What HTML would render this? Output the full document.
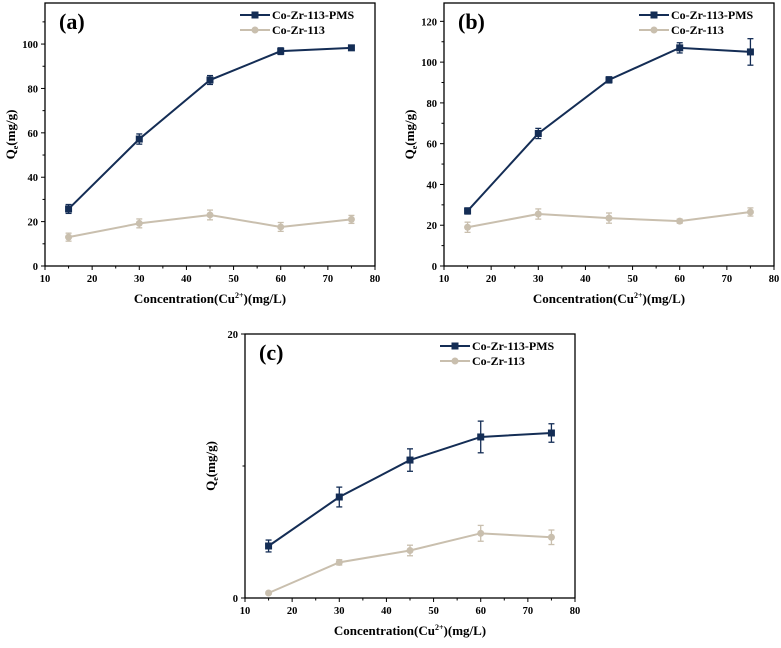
<!DOCTYPE html>
<html><head><meta charset="utf-8"><style>
body{margin:0;background:#fff;width:781px;height:643px;overflow:hidden}
svg{font-family:"Liberation Serif",serif;font-weight:bold}
</style></head><body>
<svg id="c" width="781" height="643" viewBox="0 0 781 643"></svg>
<script>
const categories=[15,30,45,60,75];
const aPms=[25.7,57.2,83.8,96.8,98.3];
const aPmsErr=[2,2.3,2,1.5,0.8];
const aCo=[13,19.2,23,17.6,21];
const aCoErr=[1.8,2,2.2,2,1.8];
const bPms=[27,65,91.3,107,105];
const bPmsErr=[1.5,2.5,1.5,2.5,6.5];
const bCo=[19,25.5,23.5,22,26.5];
const bCoErr=[2.5,2.5,2.5,1,2];
const cPms=[3.94,7.65,10.45,12.2,12.5];
const cPmsErr=[0.45,0.75,0.85,1.2,0.7];
const cCo=[0.38,2.7,3.6,4.9,4.6];
const cCoErr=[0.1,0.2,0.4,0.6,0.55];
const xTicks=[10,20,30,40,50,60,70,80];
const aYTicks=[0,20,40,60,80,100];
const bYTicks=[0,20,40,60,80,100,120];
const cYTicks=[0,20];
const legendLabels=["Co-Zr-113-PMS","Co-Zr-113"];
const NS="http://www.w3.org/2000/svg";
const svg=document.getElementById('c');
function mk(t,a,p){const e=document.createElementNS(NS,t);for(const k in a)e.setAttribute(k,a[k]);(p||svg).appendChild(e);return e;}
function panel(id,L,R,T,B,ymax,yTicks,yMinor,pms,pmsE,co,coE){
  const g=mk('g',{});
  
  
  const xs=v=>L+(v-10)/70*(R-L), ys=v=>B-v/ymax*(B-T);
  const box=mk('rect',{x:L,y:T,width:R-L,height:B-T,fill:'none',stroke:'#000','stroke-width':1.3},g);
  
  
  xTicks.forEach((v,i)=>{const x=xs(v);mk('line',{x1:x,x2:x,y1:B,y2:B+4,stroke:'#000'},g);
    if(i<xTicks.length-1){const m=xs(v+5);mk('line',{x1:m,x2:m,y1:B,y2:B+2.5,stroke:'#000'},g);}
    const t=mk('text',{x:x,y:B+16,'font-size':10.5,'text-anchor':'middle'},g);t.textContent=v;
    
    });
  yTicks.forEach(v=>{const y=ys(v);mk('line',{x1:L-4,x2:L,y1:y,y2:y,stroke:'#000'},g);
    const t=mk('text',{x:L-7,y:y+4,'font-size':10.5,'text-anchor':'end'},g);t.textContent=v;
    
    });
  yMinor.forEach(v=>{const y=ys(v);mk('line',{x1:L-2.5,x2:L,y1:y,y2:y,stroke:'#000'},g);});
  const xt=mk('text',{x:(L+R)/2,y:B+37,'font-size':13,'text-anchor':'middle'},g);
  xt.innerHTML='Concentration(Cu<tspan dy="-5" font-size="8">2+</tspan><tspan dy="5">)(mg/L)</tspan>';
  
  
  const yt=mk('text',{x:0,y:0,'font-size':13,'text-anchor':'middle',transform:`translate(${L-30},${(T+B)/2}) rotate(-90)`},g);
  yt.innerHTML='Q<tspan dy="3" font-size="8">e</tspan><tspan dy="-3">(mg/g)</tspan>';
  
  
  const lab=mk('text',{x:L+14,y:T+26,'font-size':22},g);lab.textContent='('+id+')';
  
  
  [[co,coE,'#c9bfae','circle'],[pms,pmsE,'#142d55','rect']].forEach(([d,e,col,sh])=>{
    const pts=categories.map((c,i)=>xs(c)+','+ys(d[i])).join(' ');
    const pl=mk('polyline',{points:pts,fill:'none',stroke:col,'stroke-width':2},g);
    
    
    categories.forEach((c,i)=>{const x=xs(c),y1=ys(d[i]-e[i]),y2=ys(d[i]+e[i]);
      mk('line',{x1:x,x2:x,y1:y1,y2:y2,stroke:col,'stroke-width':1.3},g);
      mk('line',{x1:x-3,x2:x+3,y1:y1,y2:y1,stroke:col,'stroke-width':1.3},g);
      mk('line',{x1:x-3,x2:x+3,y1:y2,y2:y2,stroke:col,'stroke-width':1.3},g);
      let m;
      if(sh=='rect')m=mk('rect',{x:x-3.5,y:ys(d[i])-3.5,width:7,height:7,fill:col},g);
      else m=mk('circle',{cx:x,cy:ys(d[i]),r:3.5,fill:col},g);
      
      });
  });
  const lx=R-135;
  [['#142d55','rect'],['#c9bfae','circle']].forEach(([col,sh],i)=>{
    const y=T+12+i*15;
    mk('line',{x1:lx,x2:lx+30,y1:y,y2:y,stroke:col,'stroke-width':2},g);
    if(sh=='rect')mk('rect',{x:lx+11.5,y:y-3.5,width:7,height:7,fill:col},g);
    else mk('circle',{cx:lx+15,cy:y,r:3.5,fill:col},g);
    const t=mk('text',{x:lx+32,y:y+4,'font-size':12},g);t.textContent=legendLabels[i];
    
    
  });
}
panel('a',45,375,3,266,118.5,aYTicks,[10,30,50,70,90,110],aPms,aPmsErr,aCo,aCoErr);
panel('b',444,774,3,266,129,bYTicks,[10,30,50,70,90,110],bPms,bPmsErr,bCo,bCoErr);
panel('c',245,575,334,598,20,cYTicks,[10],cPms,cPmsErr,cCo,cCoErr);
</script>
</body></html>
